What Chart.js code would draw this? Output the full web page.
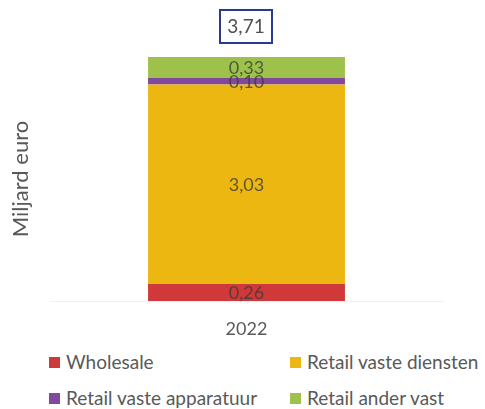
<!DOCTYPE html>
<html>
<head>
<meta charset="utf-8">
<script src="https://cdn.jsdelivr.net/npm/chart.js@4"></script>
<style>
body{margin:0;background:#fff;}
#wrap{position:relative;width:485px;height:409px;font-family:Lato,"Open Sans",sans-serif;}
#legend{position:absolute;left:0;top:351px;width:485px;}
.item{position:absolute;font-size:19px;color:#595959;white-space:nowrap;line-height:22px;}
.item span{display:inline-block;width:11px;height:11px;margin-right:6px;vertical-align:1px;}
</style>
</head>
<body>
<div id="wrap">
<canvas id="chart" width="485" height="345"></canvas>
<div id="legend"></div>
</div>
<script>
const categories=["2022"];
const seriesNames=["Wholesale","Retail vaste diensten","Retail vaste apparatuur","Retail ander vast"];
const wholesale=[0.26];
const retailDiensten=[3.03];
const retailApparatuur=[0.10];
const retailAnder=[0.33];
const totals=[3.71];
const colors=["#D0393A","#EDB711","#81489C","#9DC14A"];

const fmt=v=>v.toFixed(2).replace(".",",");

const labelPlugin={
    id:"segLabels",
    afterDatasetsDraw(chart){
        const ctx=chart.ctx;
        ctx.save();
        ctx.font="18px Lato, 'Open Sans', sans-serif";
        ctx.fillStyle="rgba(60,60,60,0.8)";
        ctx.textAlign="center";
        ctx.textBaseline="middle";
        chart.data.datasets.forEach((ds,i)=>{
            chart.getDatasetMeta(i).data.forEach((bar,j)=>{
                const mid=(bar.y+bar.base)/2;
                ctx.fillText(fmt(ds.data[j]),bar.x,mid+1);
            });
        });
        // total box
        const top=chart.getDatasetMeta(3).data[0];
        const y=chart.scales.y.getPixelForValue(totals[0]);
        const w=52,h=33;
        ctx.strokeStyle="#2B3990";
        ctx.lineWidth=2;
        ctx.strokeRect(top.x-w/2-0.5,y-47,w,h);
        ctx.fillStyle="#505050";
        ctx.font="19px Lato, 'Open Sans', sans-serif";
        ctx.fillText(fmt(totals[0]),top.x-0.5,y-30);
        ctx.restore();
    }
};

const seriesData=[wholesale,retailDiensten,retailApparatuur,retailAnder];
new Chart(document.getElementById("chart"),{
    type:"bar",
    data:{
        labels:categories,
        datasets:seriesNames.map((n,i)=>({
            label:n,
            data:seriesData[i],
            backgroundColor:colors[i],
            borderWidth:0,
            categoryPercentage:1,
            barPercentage:0.501
        }))
    },
    options:{
        responsive:false,
        animation:false,
        layout:{padding:{top:57,right:42,left:0,bottom:0}},
        plugins:{legend:{display:false},tooltip:{enabled:false}},
        scales:{
            x:{
                stacked:true,
                grid:{display:false},
                border:{color:"#f0f0f0"},
                ticks:{color:"#595959",font:{size:18,family:"Lato"},padding:9},
                afterFit(s){s.height=44;}
            },
            y:{
                stacked:true,
                min:0,max:3.71,
                grid:{display:false},
                border:{display:false},
                ticks:{display:false},
                title:{display:true,text:"Miljard euro",color:"#595959",font:{size:22,family:"Lato"},padding:{top:8,bottom:0}},
                afterFit(s){s.width=50;}
            }
        }
    },
    plugins:[labelPlugin]
});

// legend in two columns
const leg=document.getElementById("legend");
const pos=[[49,0],[290,0],[49,36],[290,36]];
seriesNames.forEach((n,i)=>{
    const d=document.createElement("div");
    d.className="item";
    d.style.left=pos[i][0]+"px";
    d.style.top=pos[i][1]+"px";
    d.innerHTML='<span style="background:'+colors[i]+'"></span>'+n;
    leg.appendChild(d);
});
</script>
</body>
</html>
